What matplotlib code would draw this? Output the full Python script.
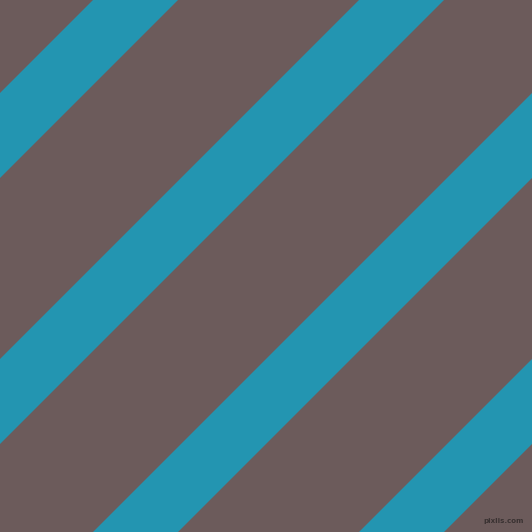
import numpy as np
import matplotlib
matplotlib.use("Agg")
import matplotlib.pyplot as plt

# diagonal stripes: where each band starts along x + y (pixels) and how wide it is
stripe_starts = [93, 359, 625, 891]
stripe_width = 85
size = 532

bg_color = "#6c5b5b"
stripe_color = "#2395b1"

fig = plt.figure(figsize=(5.32, 5.32), dpi=100)
ax = fig.add_axes([0, 0, 1, 1])
ax.set_facecolor(bg_color)
ax.set_xlim(0, size)
ax.set_ylim(size, 0)
ax.axis("off")
fig.patch.set_facecolor(bg_color)

x = np.linspace(-10, size + 10, 200)
for s in stripe_starts:
    ax.fill_between(x, s - x, s + stripe_width - x, color=stripe_color, lw=0)

ax.set_xlim(0, size)
ax.set_ylim(size, 0)

ax.text(524, 521, "pixlis.com", fontsize=5, color="#3a3232", ha="right", va="center",
        fontweight="bold")

fig.savefig("out.png", dpi=100, facecolor=bg_color)
